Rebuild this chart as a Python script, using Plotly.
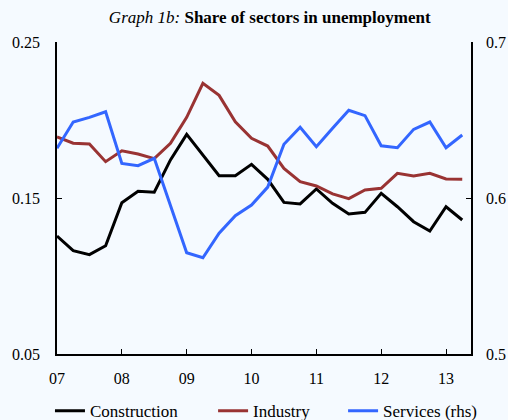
import plotly.graph_objects as go

# Quarterly data, 2007Q1 .. 2013Q2
quarters = [2007 + i * 0.25 for i in range(26)]
construction = [0.1256, 0.1162, 0.1137, 0.1194, 0.1470, 0.1543, 0.1537, 0.1744, 0.1908, 0.1776,
                0.1643, 0.1643, 0.1716, 0.1620, 0.1472, 0.1462, 0.1558, 0.1466, 0.1397, 0.1408,
                0.1530, 0.1444, 0.1348, 0.1288, 0.1444, 0.1359]
industry = [0.1891, 0.1851, 0.1846, 0.1733, 0.1803, 0.1782, 0.1752, 0.1851, 0.2017, 0.2235,
            0.2158, 0.1989, 0.1883, 0.1833, 0.1690, 0.1605, 0.1577, 0.1526, 0.1496, 0.1551,
            0.1562, 0.1658, 0.1641, 0.1658, 0.1622, 0.1620]
services = [0.6319, 0.6487, 0.6517, 0.6553, 0.6222, 0.6207, 0.6254, 0.5955, 0.5649, 0.5617,
            0.5774, 0.5887, 0.5955, 0.6070, 0.6344, 0.6453, 0.6329, 0.6447, 0.6562, 0.6528,
            0.6335, 0.6322, 0.6440, 0.6487, 0.6322, 0.6404]

x_tickvals = [2007, 2008, 2009, 2010, 2011, 2012, 2013]
x_ticktext = ["07", "08", "09", "10", "11", "12", "13"]
left_ticks = [0.05, 0.15, 0.25]
left_text = ["0.05", "0.15", "0.25"]
right_ticks = [0.5, 0.6, 0.7]
right_text = ["0.5", "0.6", "0.7"]

FONT = "Liberation Serif"
BG = "#f5faff"

fig = go.Figure()
fig.add_trace(go.Scatter(x=quarters, y=construction, name="Construction", mode="lines",
                         line=dict(color="#000000", width=3), legend="legend"))
fig.add_trace(go.Scatter(x=quarters, y=industry, name="Industry", mode="lines",
                         line=dict(color="#993333", width=3), legend="legend2"))
fig.add_trace(go.Scatter(x=quarters, y=services, name="Services (rhs)", mode="lines",
                         line=dict(color="#3366ff", width=3), yaxis="y2", legend="legend3"))

axis_common = dict(showgrid=False, zeroline=False, ticks="inside", ticklen=5, tickwidth=1,
                   tickcolor="#000", showline=True, linecolor="#000", linewidth=1.5,
                   automargin=False,
                   tickfont=dict(family=FONT, size=16, color="#000"))

leg_common = dict(orientation="h", yref="container", y=0.021, yanchor="middle",
                  xanchor="left", font=dict(family=FONT, size=17, color="#000"),
                  bgcolor="rgba(0,0,0,0)")

fig.update_layout(
    width=508, height=420,
    paper_bgcolor=BG, plot_bgcolor=BG,
    margin=dict(l=57, r=37, t=42, b=66),
    font=dict(family=FONT, color="#000"),
    title=dict(text="<i>Graph 1b:</i> <b>Share of sectors in unemployment</b>",
               x=0.531, xanchor="center", y=0.96, yanchor="middle",
               font=dict(family=FONT, size=17, color="#000")),
    xaxis=dict(range=[2007, 2013.385], tickvals=x_tickvals, ticktext=x_ticktext,
               ticklabelstandoff=9, **axis_common),
    yaxis=dict(range=[0.05, 0.25], tickvals=left_ticks, ticktext=left_text,
               ticklabelstandoff=12, **axis_common),
    yaxis2=dict(range=[0.5, 0.7], tickvals=right_ticks, ticktext=right_text, overlaying="y",
                side="right", ticklabelstandoff=10, **axis_common),
    showlegend=True,
    hovermode=False,
    legend=dict(x=-0.017, **leg_common),
    legend2=dict(x=0.377, **leg_common),
    legend3=dict(x=0.691, **leg_common),
)

fig.write_html("out.html", config={"displayModeBar": False},
               post_script="document.body.style.margin='0';")
